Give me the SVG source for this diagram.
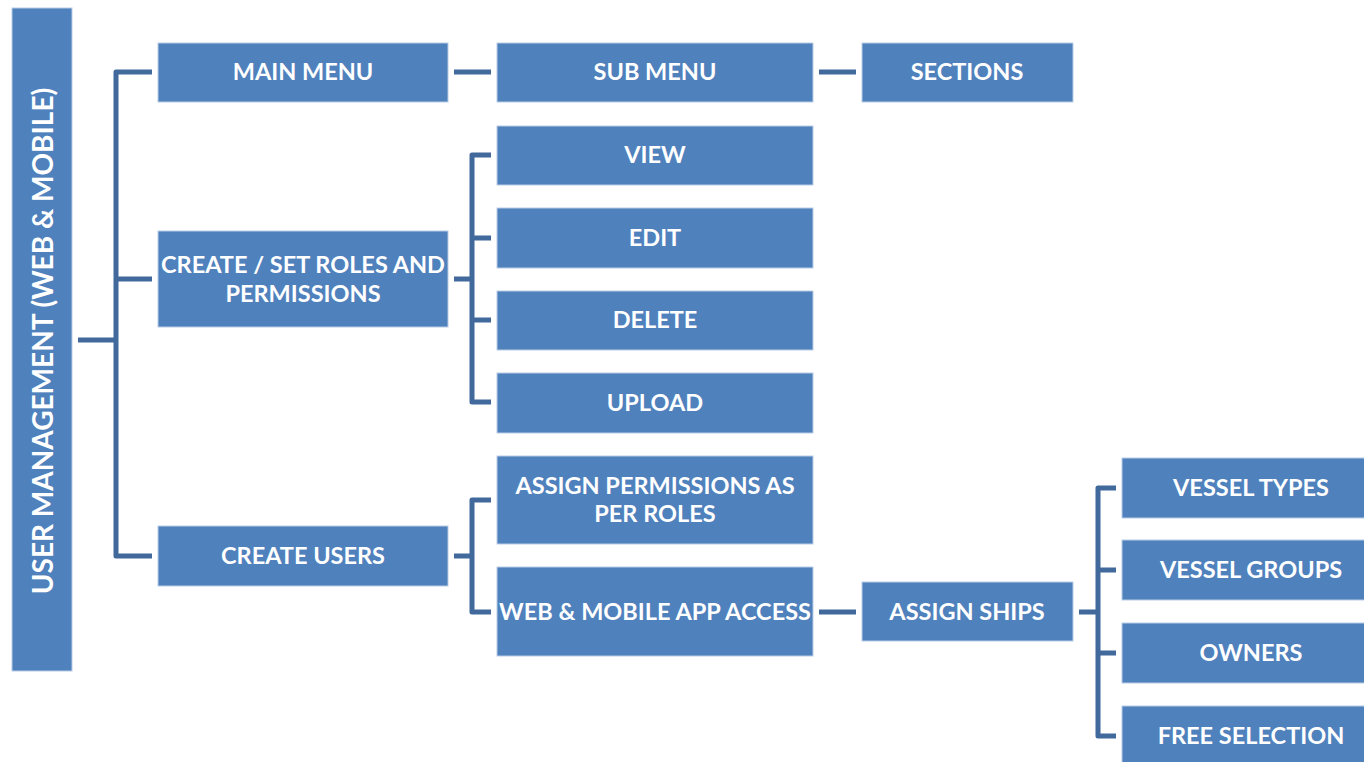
<svg xmlns="http://www.w3.org/2000/svg" width="1364" height="762" viewBox="0 0 1364 762">
<style>
.box{fill:#4F81BD;stroke:#B9CDE5;stroke-width:1}
.t{font-family:Lato,"Open Sans","Liberation Sans",sans-serif;font-weight:bold;font-size:23.5px;fill:#FFFFFF;text-anchor:middle;dominant-baseline:central}
.c{fill:none;stroke:#41699B;stroke-width:5;stroke-linejoin:round}
</style>
<rect width="1364" height="762" fill="#FFFFFF"/>
<g id="connectors">
<path class="c" d="M78 340H116M152 72H116V556H152M116 279H152"/>
<path class="c" d="M454 72H491M819 72H856"/>
<path class="c" d="M454 279H472M491 155H472V402H491M472 238H491M472 320H491"/>
<path class="c" d="M454 556H472M491 500H472V612H491"/>
<path class="c" d="M819 612H856"/>
<path class="c" d="M1079 612H1098M1116 488H1098V736H1116M1098 570H1116M1098 653H1116"/>
</g>
<g id="root"><rect class="box" x="12" y="8" width="60" height="663"/><text class="t" transform="translate(42 341) rotate(-90)" style="font-size:28px">USER MANAGEMENT (WEB &amp; MOBILE)</text></g>
<g id="main-menu"><rect class="box" x="158" y="43" width="290" height="59"/><text class="t" x="303" y="71">MAIN MENU</text></g>
<g id="sub-menu"><rect class="box" x="497" y="43" width="316" height="59"/><text class="t" x="655" y="71">SUB MENU</text></g>
<g id="sections"><rect class="box" x="862" y="43" width="211" height="59"/><text class="t" x="967" y="71">SECTIONS</text></g>
<g id="roles"><rect class="box" x="158" y="231" width="290" height="96"/><text class="t" x="303" y="264">CREATE / SET ROLES AND</text><text class="t" x="303" y="293">PERMISSIONS</text></g>
<g id="view"><rect class="box" x="497" y="126" width="316" height="59"/><text class="t" x="655" y="154">VIEW</text></g>
<g id="edit"><rect class="box" x="497" y="208" width="316" height="60"/><text class="t" x="655" y="237">EDIT</text></g>
<g id="delete"><rect class="box" x="497" y="291" width="316" height="59"/><text class="t" x="655" y="319">DELETE</text></g>
<g id="upload"><rect class="box" x="497" y="373" width="316" height="60"/><text class="t" x="655" y="402">UPLOAD</text></g>
<g id="create-users"><rect class="box" x="158" y="526" width="290" height="60"/><text class="t" x="303" y="555">CREATE USERS</text></g>
<g id="assign-permissions"><rect class="box" x="497" y="456" width="316" height="88"/><text class="t" x="655" y="485">ASSIGN PERMISSIONS AS</text><text class="t" x="655" y="513">PER ROLES</text></g>
<g id="web-mobile"><rect class="box" x="497" y="567" width="316" height="89"/><text class="t" x="655" y="611">WEB &amp; MOBILE APP ACCESS</text></g>
<g id="assign-ships"><rect class="box" x="862" y="582" width="211" height="59"/><text class="t" x="967" y="611">ASSIGN SHIPS</text></g>
<g id="vessel-types"><rect class="box" x="1122" y="458" width="244" height="60"/><text class="t" x="1251" y="487">VESSEL TYPES</text></g>
<g id="vessel-groups"><rect class="box" x="1122" y="540" width="244" height="60"/><text class="t" x="1251" y="569">VESSEL GROUPS</text></g>
<g id="owners"><rect class="box" x="1122" y="623" width="244" height="60"/><text class="t" x="1251" y="652">OWNERS</text></g>
<g id="free-selection"><rect class="box" x="1122" y="706" width="244" height="60"/><text class="t" x="1251" y="735">FREE SELECTION</text></g>
</svg>
